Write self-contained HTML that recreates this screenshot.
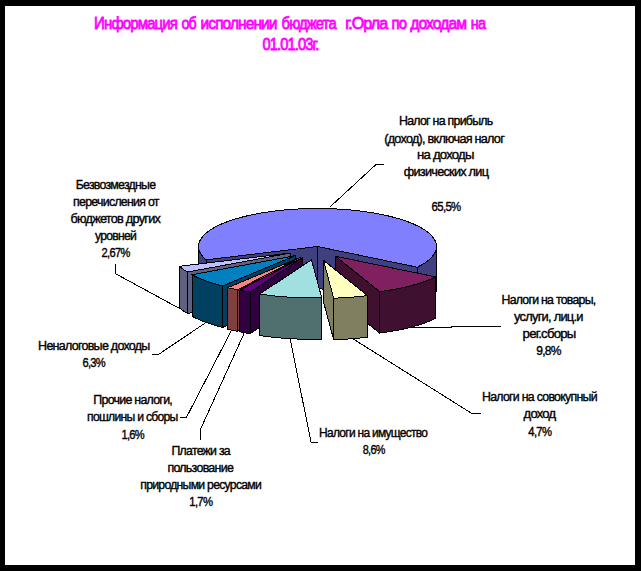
<!DOCTYPE html>
<html><head><meta charset="utf-8"><style>
html,body{margin:0;padding:0;background:#000;}
body{width:641px;height:571px;position:relative;overflow:hidden;}
#inner{position:absolute;left:5px;top:6px;width:630px;height:559px;background:#fff;}
svg{position:absolute;left:0;top:0;}
.lbl text{font-family:"Liberation Sans",sans-serif;font-size:13.5px;fill:#000;stroke:#000;stroke-width:0.4px;letter-spacing:-0.8px;word-spacing:0px;}
.ttl text{font-family:"Liberation Sans",sans-serif;font-size:17px;font-weight:normal;fill:#FF00FF;stroke:#FF00FF;stroke-width:0.8px;letter-spacing:-1px;word-spacing:0px;}
</style></head><body>
<div id="inner"></div>
<svg width="641" height="571" viewBox="0 0 641 571">
<g class="ttl"><text transform="translate(94.10,28.70) scale(0.8822,1)" xml:space="preserve">Информация</text><text transform="translate(181.40,28.70) scale(0.8407,1)" xml:space="preserve">об</text><text transform="translate(200.60,28.70) scale(0.9100,1)" xml:space="preserve">исполнении</text><text transform="translate(281.60,28.70) scale(0.8707,1)" xml:space="preserve">бюджета</text><text transform="translate(345.20,28.70) scale(0.9493,1)" xml:space="preserve">г.Орла</text><text transform="translate(391.60,28.70) scale(0.8757,1)" xml:space="preserve">по</text><text transform="translate(410.30,28.70) scale(0.9205,1)" xml:space="preserve">доходам</text><text transform="translate(470.80,28.70) scale(0.8547,1)" xml:space="preserve">на</text><text transform="translate(262.50,50.40) scale(0.8621,1)" xml:space="preserve">01.01.03г.</text></g>
<g stroke="#000" stroke-width="1" stroke-linejoin="miter" shape-rendering="crispEdges">
<g><polygon points="317.50,246.50 206.04,259.81 206.04,301.31 317.50,288.00" fill="#404080"/><polygon points="317.50,246.50 417.30,267.20 417.30,308.70 317.50,288.00" fill="#404080"/><polygon points="206.04,259.81 205.34,259.20 204.68,258.59 204.05,257.97 203.46,257.35 202.89,256.73 202.37,256.11 201.87,255.48 201.41,254.85 200.98,254.22 200.58,253.58 200.22,252.94 199.90,252.30 199.60,251.66 199.35,251.02 199.12,250.38 198.93,249.73 198.78,249.09 198.66,248.44 198.57,247.79 198.52,247.15 198.50,246.50 198.50,288.00 198.52,288.65 198.57,289.29 198.66,289.94 198.78,290.59 198.93,291.23 199.12,291.88 199.35,292.52 199.60,293.16 199.90,293.80 200.22,294.44 200.58,295.08 200.98,295.72 201.41,296.35 201.87,296.98 202.37,297.61 202.89,298.23 203.46,298.85 204.05,299.47 204.68,300.09 205.34,300.70 206.04,301.31" fill="#404080"/><polygon points="436.50,246.50 436.48,247.16 436.43,247.83 436.34,248.49 436.21,249.15 436.05,249.81 435.85,250.47 435.61,251.13 435.34,251.79 435.03,252.44 434.69,253.10 434.31,253.75 433.90,254.40 433.45,255.05 432.97,255.69 432.45,256.34 431.89,256.97 431.30,257.61 430.68,258.24 430.02,258.87 429.32,259.50 428.60,260.12 427.83,260.74 427.04,261.35 426.21,261.96 425.35,262.56 424.46,263.16 423.53,263.75 422.57,264.34 421.58,264.92 420.56,265.50 419.50,266.07 418.42,266.64 417.30,267.20 417.30,308.70 418.42,308.14 419.50,307.57 420.56,307.00 421.58,306.42 422.57,305.84 423.53,305.25 424.46,304.66 425.35,304.06 426.21,303.46 427.04,302.85 427.83,302.24 428.60,301.62 429.32,301.00 430.02,300.37 430.68,299.74 431.30,299.11 431.89,298.47 432.45,297.84 432.97,297.19 433.45,296.55 433.90,295.90 434.31,295.25 434.69,294.60 435.03,293.94 435.34,293.29 435.61,292.63 435.85,291.97 436.05,291.31 436.21,290.65 436.34,289.99 436.43,289.33 436.48,288.66 436.50,288.00" fill="#404080"/><polygon points="317.50,246.50 206.04,259.81 205.33,259.19 204.65,258.56 204.01,257.93 203.41,257.30 202.83,256.66 202.30,256.02 201.80,255.38 201.33,254.74 200.90,254.09 200.50,253.44 200.14,252.79 199.81,252.13 199.53,251.48 199.27,250.82 199.05,250.16 198.87,249.50 198.73,248.84 198.62,248.18 198.54,247.52 198.51,246.86 198.50,246.20 198.54,245.54 198.61,244.88 198.72,244.21 198.86,243.55 199.04,242.89 199.25,242.24 199.50,241.58 199.79,240.92 200.11,240.27 200.47,239.62 200.86,238.97 201.29,238.32 201.75,237.68 202.25,237.03 202.79,236.39 203.35,235.76 203.96,235.12 204.59,234.49 205.27,233.87 205.97,233.25 206.71,232.63 207.49,232.01 208.29,231.40 209.13,230.80 210.00,230.20 210.91,229.60 211.85,229.01 212.82,228.43 213.82,227.85 214.85,227.28 215.92,226.71 217.01,226.15 218.14,225.59 219.29,225.04 220.48,224.50 221.69,223.96 222.93,223.43 224.21,222.91 225.51,222.39 226.84,221.89 228.19,221.39 229.58,220.89 230.99,220.41 232.42,219.93 233.88,219.46 235.37,219.00 236.88,218.55 238.42,218.10 239.98,217.67 241.56,217.24 243.17,216.82 244.80,216.42 246.45,216.02 248.13,215.63 249.82,215.24 251.53,214.87 253.27,214.51 255.02,214.16 256.80,213.82 258.59,213.48 260.40,213.16 262.23,212.85 264.07,212.55 265.93,212.25 267.80,211.97 269.70,211.70 271.60,211.44 273.52,211.19 275.45,210.95 277.40,210.72 279.35,210.51 281.32,210.30 283.30,210.10 285.29,209.92 287.29,209.74 289.30,209.58 291.32,209.43 293.34,209.29 295.38,209.16 297.42,209.05 299.46,208.94 301.51,208.84 303.57,208.76 305.63,208.69 307.69,208.63 309.76,208.58 311.83,208.54 313.90,208.52 315.97,208.50 318.05,208.50 320.12,208.51 322.19,208.53 324.26,208.56 326.33,208.60 328.39,208.66 330.46,208.73 332.51,208.80 334.57,208.89 336.62,208.99 338.66,209.11 340.69,209.23 342.72,209.36 344.74,209.51 346.76,209.67 348.76,209.83 350.76,210.01 352.74,210.20 354.72,210.41 356.68,210.62 358.63,210.84 360.57,211.08 362.49,211.32 364.41,211.58 366.30,211.84 368.19,212.12 370.05,212.41 371.90,212.70 373.74,213.01 375.56,213.33 377.36,213.66 379.14,213.99 380.90,214.34 382.65,214.70 384.37,215.07 386.08,215.44 387.76,215.83 389.42,216.23 391.06,216.63 392.68,217.04 394.27,217.47 395.85,217.90 397.39,218.34 398.92,218.79 400.42,219.24 401.89,219.71 403.34,220.18 404.76,220.66 406.16,221.15 407.53,221.65 408.87,222.15 410.18,222.67 411.47,223.18 412.72,223.71 413.95,224.24 415.15,224.78 416.32,225.33 417.46,225.88 418.57,226.44 419.65,227.01 420.70,227.58 421.71,228.15 422.70,228.74 423.65,229.32 424.57,229.92 425.46,230.52 426.31,231.12 427.14,231.73 427.93,232.34 428.68,232.95 429.40,233.57 430.09,234.20 430.75,234.83 431.36,235.46 431.95,236.09 432.50,236.73 433.02,237.37 433.50,238.02 433.94,238.66 434.35,239.31 434.73,239.96 435.06,240.61 435.37,241.27 435.63,241.93 435.87,242.58 436.06,243.24 436.22,243.90 436.35,244.56 436.43,245.22 436.48,245.88 436.50,246.55 436.48,247.21 436.42,247.87 436.33,248.53 436.20,249.19 436.04,249.85 435.84,250.51 435.60,251.17 435.33,251.82 435.02,252.48 434.67,253.13 434.29,253.78 433.88,254.43 433.43,255.08 432.94,255.72 432.42,256.36 431.87,257.00 431.28,257.63 430.66,258.26 430.00,258.89 429.30,259.51 428.58,260.13 427.82,260.75 427.02,261.36 426.20,261.97 425.34,262.57 424.44,263.17 423.52,263.76 422.56,264.35 421.57,264.93 420.55,265.50 419.50,266.07 418.42,266.64 417.30,267.20" fill="#8080FF"/></g>
<g><polygon points="290.70,253.00 187.64,272.00 187.64,313.50 290.70,294.50" fill="#606080"/><polygon points="187.64,272.00 186.67,271.45 185.73,270.90 184.81,270.34 183.93,269.78 183.07,269.21 182.24,268.64 181.45,268.06 180.68,267.48 179.94,266.90 179.24,266.31 179.24,307.81 179.94,308.40 180.68,308.98 181.45,309.56 182.24,310.14 183.07,310.71 183.93,311.28 184.81,311.84 185.73,312.40 186.67,312.95 187.64,313.50" fill="#606080"/><polygon points="290.70,253.00 187.64,272.00 186.67,271.45 185.73,270.90 184.81,270.34 183.93,269.78 183.07,269.21 182.24,268.64 181.45,268.06 180.68,267.48 179.94,266.90 179.24,266.31" fill="#C0C0FF"/></g>
<g><polygon points="295.10,255.70 222.66,285.85 222.66,327.35 295.10,297.20" fill="#004060"/><polygon points="222.66,285.85 221.06,285.45 219.48,285.04 217.92,284.62 216.38,284.20 214.87,283.77 213.38,283.32 211.92,282.87 210.48,282.42 209.06,281.95 207.67,281.48 206.30,281.00 204.96,280.51 203.65,280.02 202.36,279.51 201.10,279.00 199.87,278.49 198.67,277.97 197.49,277.44 196.34,276.90 195.22,276.36 194.13,275.81 193.07,275.26 192.04,274.70 192.04,316.20 193.07,316.76 194.13,317.31 195.22,317.86 196.34,318.40 197.49,318.94 198.67,319.47 199.87,319.99 201.10,320.50 202.36,321.01 203.65,321.52 204.96,322.01 206.30,322.50 207.67,322.98 209.06,323.45 210.48,323.92 211.92,324.37 213.38,324.82 214.87,325.27 216.38,325.70 217.92,326.12 219.48,326.54 221.06,326.95 222.66,327.35" fill="#004060"/><polygon points="295.10,255.70 222.66,285.85 221.06,285.45 219.48,285.04 217.92,284.62 216.38,284.20 214.87,283.77 213.38,283.32 211.92,282.87 210.48,282.42 209.06,281.95 207.67,281.48 206.30,281.00 204.96,280.51 203.65,280.02 202.36,279.51 201.10,279.00 199.87,278.49 198.67,277.97 197.49,277.44 196.34,276.90 195.22,276.36 194.13,275.81 193.07,275.26 192.04,274.70" fill="#0080C0"/></g>
<g><polygon points="300.20,257.50 237.49,289.80 237.49,331.30 300.20,299.00" fill="#804040"/><polygon points="237.49,289.80 235.82,289.46 234.17,289.11 232.54,288.76 230.93,288.40 229.33,288.03 227.76,287.65 227.76,329.15 229.33,329.53 230.93,329.90 232.54,330.26 234.17,330.61 235.82,330.96 237.49,331.30" fill="#804040"/><polygon points="300.20,257.50 237.49,289.80 235.82,289.46 234.17,289.11 232.54,288.76 230.93,288.40 229.33,288.03 227.76,287.65" fill="#FF8080"/></g>
<g><polygon points="302.00,257.90 250.21,292.11 250.21,333.61 302.00,299.40" fill="#300040"/><polygon points="250.21,292.11 248.35,291.82 246.50,291.51 244.67,291.20 242.86,290.88 241.07,290.54 239.29,290.20 239.29,331.70 241.07,332.04 242.86,332.38 244.67,332.70 246.50,333.01 248.35,333.32 250.21,333.61" fill="#300040"/><polygon points="302.00,257.90 250.21,292.11 248.35,291.82 246.50,291.51 244.67,291.20 242.86,290.88 241.07,290.54 239.29,290.20" fill="#600080"/></g>
<g><polygon points="335.60,256.30 379.60,291.61 379.60,333.11 335.60,297.80" fill="#401030"/><polygon points="435.63,276.88 434.50,277.43 433.35,277.97 432.17,278.51 430.96,279.03 429.72,279.55 428.45,280.07 427.15,280.57 425.83,281.07 424.48,281.57 423.11,282.05 421.71,282.53 420.28,283.00 418.83,283.46 417.36,283.91 415.85,284.36 414.33,284.79 412.78,285.22 411.21,285.64 409.62,286.05 408.01,286.46 406.37,286.85 404.71,287.23 403.04,287.61 401.34,287.98 399.62,288.33 397.89,288.68 396.13,289.02 394.36,289.34 392.57,289.66 390.76,289.97 388.94,290.27 387.10,290.56 385.25,290.83 383.38,291.10 381.50,291.36 379.60,291.61 379.60,333.11 381.50,332.86 383.38,332.60 385.25,332.33 387.10,332.06 388.94,331.77 390.76,331.47 392.57,331.16 394.36,330.84 396.13,330.52 397.89,330.18 399.62,329.83 401.34,329.48 403.04,329.11 404.71,328.73 406.37,328.35 408.01,327.96 409.62,327.55 411.21,327.14 412.78,326.72 414.33,326.29 415.85,325.86 417.36,325.41 418.83,324.96 420.28,324.50 421.71,324.03 423.11,323.55 424.48,323.07 425.83,322.57 427.15,322.07 428.45,321.57 429.72,321.05 430.96,320.53 432.17,320.01 433.35,319.47 434.50,318.93 435.63,318.38" fill="#401030"/><polygon points="335.60,256.30 435.63,276.88 434.50,277.43 433.35,277.97 432.17,278.51 430.96,279.03 429.72,279.55 428.45,280.07 427.15,280.57 425.83,281.07 424.48,281.57 423.11,282.05 421.71,282.53 420.28,283.00 418.83,283.46 417.36,283.91 415.85,284.36 414.33,284.79 412.78,285.22 411.21,285.64 409.62,286.05 408.01,286.46 406.37,286.85 404.71,287.23 403.04,287.61 401.34,287.98 399.62,288.33 397.89,288.68 396.13,289.02 394.36,289.34 392.57,289.66 390.76,289.97 388.94,290.27 387.10,290.56 385.25,290.83 383.38,291.10 381.50,291.36 379.60,291.61" fill="#802060"/></g>
<g><polygon points="323.50,260.30 333.66,298.16 333.66,339.66 323.50,301.80" fill="#808060"/><polygon points="367.50,295.61 365.59,295.84 363.66,296.07 361.72,296.29 359.77,296.49 357.81,296.69 355.84,296.87 353.86,297.04 351.87,297.20 349.88,297.35 347.87,297.49 345.86,297.62 343.84,297.74 341.81,297.85 339.78,297.94 337.75,298.03 335.71,298.10 333.66,298.16 333.66,339.66 335.71,339.60 337.75,339.53 339.78,339.44 341.81,339.35 343.84,339.24 345.86,339.12 347.87,338.99 349.88,338.85 351.87,338.70 353.86,338.54 355.84,338.37 357.81,338.19 359.77,337.99 361.72,337.79 363.66,337.57 365.59,337.34 367.50,337.11" fill="#808060"/><polygon points="323.50,260.30 367.50,295.61 365.59,295.84 363.66,296.07 361.72,296.29 359.77,296.49 357.81,296.69 355.84,296.87 353.86,297.04 351.87,297.20 349.88,297.35 347.87,297.49 345.86,297.62 343.84,297.74 341.81,297.85 339.78,297.94 337.75,298.03 335.71,298.10 333.66,298.16" fill="#FFFFC0"/></g>
<g><polygon points="321.66,297.66 319.61,297.71 317.56,297.75 315.51,297.78 313.45,297.79 311.39,297.80 309.34,297.79 307.28,297.78 305.23,297.75 303.17,297.71 301.12,297.66 299.07,297.59 297.03,297.52 294.99,297.43 292.96,297.34 290.93,297.23 288.91,297.11 286.89,296.98 284.88,296.84 282.88,296.68 280.89,296.52 278.91,296.35 276.93,296.16 274.97,295.97 273.02,295.76 271.08,295.54 269.15,295.31 267.23,295.07 265.33,294.82 263.44,294.56 261.57,294.29 259.71,294.01 259.71,335.51 261.57,335.79 263.44,336.06 265.33,336.32 267.23,336.57 269.15,336.81 271.08,337.04 273.02,337.26 274.97,337.47 276.93,337.66 278.91,337.85 280.89,338.02 282.88,338.18 284.88,338.34 286.89,338.48 288.91,338.61 290.93,338.73 292.96,338.84 294.99,338.93 297.03,339.02 299.07,339.09 301.12,339.16 303.17,339.21 305.23,339.25 307.28,339.28 309.34,339.29 311.39,339.30 313.45,339.29 315.51,339.28 317.56,339.25 319.61,339.21 321.66,339.16" fill="#507070"/><polygon points="311.50,259.80 321.66,297.66 319.61,297.71 317.56,297.75 315.51,297.78 313.45,297.79 311.39,297.80 309.34,297.79 307.28,297.78 305.23,297.75 303.17,297.71 301.12,297.66 299.07,297.59 297.03,297.52 294.99,297.43 292.96,297.34 290.93,297.23 288.91,297.11 286.89,296.98 284.88,296.84 282.88,296.68 280.89,296.52 278.91,296.35 276.93,296.16 274.97,295.97 273.02,295.76 271.08,295.54 269.15,295.31 267.23,295.07 265.33,294.82 263.44,294.56 261.57,294.29 259.71,294.01" fill="#A0E0E0"/></g>
</g>
<g shape-rendering="crispEdges"><polyline points="330.0,207.0 376.0,164.5 384.0,164.5" fill="none" stroke="#000" stroke-width="1"/><polyline points="115.5,264.0 115.5,273.7 179.6,308.5" fill="none" stroke="#000" stroke-width="1"/><polyline points="151.6,354.2 158.9,354.2 205.1,323.1" fill="none" stroke="#000" stroke-width="1"/><polyline points="179.6,417.1 186.6,417.1 231.4,330.5" fill="none" stroke="#000" stroke-width="1"/><polyline points="200.6,439.5 200.6,429.0 244.0,333.6" fill="none" stroke="#000" stroke-width="1"/><polyline points="290.0,338.0 311.0,442.0 318.0,442.0" fill="none" stroke="#000" stroke-width="1"/><polyline points="352.5,338.5 472.2,413.7 481.0,414.0" fill="none" stroke="#000" stroke-width="1"/><polyline points="412.0,327.5 451.5,327.5 451.5,326.5 501.0,326.5" fill="none" stroke="#000" stroke-width="1"/></g>
<g class="lbl"><text transform="translate(399.00,125.30) scale(0.9174,1)" xml:space="preserve">Налог на прибыль</text><text transform="translate(384.20,142.60) scale(0.9393,1)" xml:space="preserve">(доход), включая налог</text><text transform="translate(417.00,159.10) scale(0.9745,1)" xml:space="preserve">на доходы</text><text transform="translate(403.80,176.00) scale(0.9425,1)" xml:space="preserve">физических лиц</text><text transform="translate(431.60,210.80) scale(0.8433,1)" xml:space="preserve">65,5%</text><text transform="translate(75.70,189.20) scale(0.9116,1)" xml:space="preserve">Безвозмездные</text><text transform="translate(73.10,206.00) scale(0.9152,1)" xml:space="preserve">перечисления от</text><text transform="translate(70.50,223.00) scale(0.9417,1)" xml:space="preserve">бюджетов других</text><text transform="translate(95.00,240.30) scale(0.9011,1)" xml:space="preserve">уровней</text><text transform="translate(101.50,257.30) scale(0.8205,1)" xml:space="preserve">2,67%</text><text transform="translate(38.10,349.60) scale(0.9281,1)" xml:space="preserve">Неналоговые доходы</text><text transform="translate(82.40,366.80) scale(0.8239,1)" xml:space="preserve">6,3%</text><text transform="translate(93.30,404.20) scale(0.9192,1)" xml:space="preserve">Прочие налоги,</text><text transform="translate(87.10,421.40) scale(0.9023,1)" xml:space="preserve">пошлины и сборы</text><text transform="translate(121.40,438.60) scale(0.8239,1)" xml:space="preserve">1,6%</text><text transform="translate(171.50,455.00) scale(0.9109,1)" xml:space="preserve">Платежи за</text><text transform="translate(167.40,471.50) scale(0.9236,1)" xml:space="preserve">пользование</text><text transform="translate(140.30,489.30) scale(0.9055,1)" xml:space="preserve">природными ресурсами</text><text transform="translate(189.30,505.80) scale(0.8345,1)" xml:space="preserve">1,7%</text><text transform="translate(319.00,437.10) scale(0.8878,1)" xml:space="preserve">Налоги на имущество</text><text transform="translate(362.70,454.20) scale(0.8028,1)" xml:space="preserve">8,6%</text><text transform="translate(482.00,400.90) scale(0.9161,1)" xml:space="preserve">Налоги на совокупный</text><text transform="translate(523.60,418.30) scale(0.9644,1)" xml:space="preserve">доход</text><text transform="translate(528.30,435.60) scale(0.8345,1)" xml:space="preserve">4,7%</text><text transform="translate(501.50,304.10) scale(0.9115,1)" xml:space="preserve">Налоги на товары,</text><text transform="translate(514.10,321.10) scale(0.9533,1)" xml:space="preserve">услуги, лиц.и</text><text transform="translate(522.60,337.80) scale(0.9799,1)" xml:space="preserve">рег.сборы</text><text transform="translate(536.20,355.20) scale(0.8908,1)" xml:space="preserve">9,8%</text></g>
</svg>
</body></html>
